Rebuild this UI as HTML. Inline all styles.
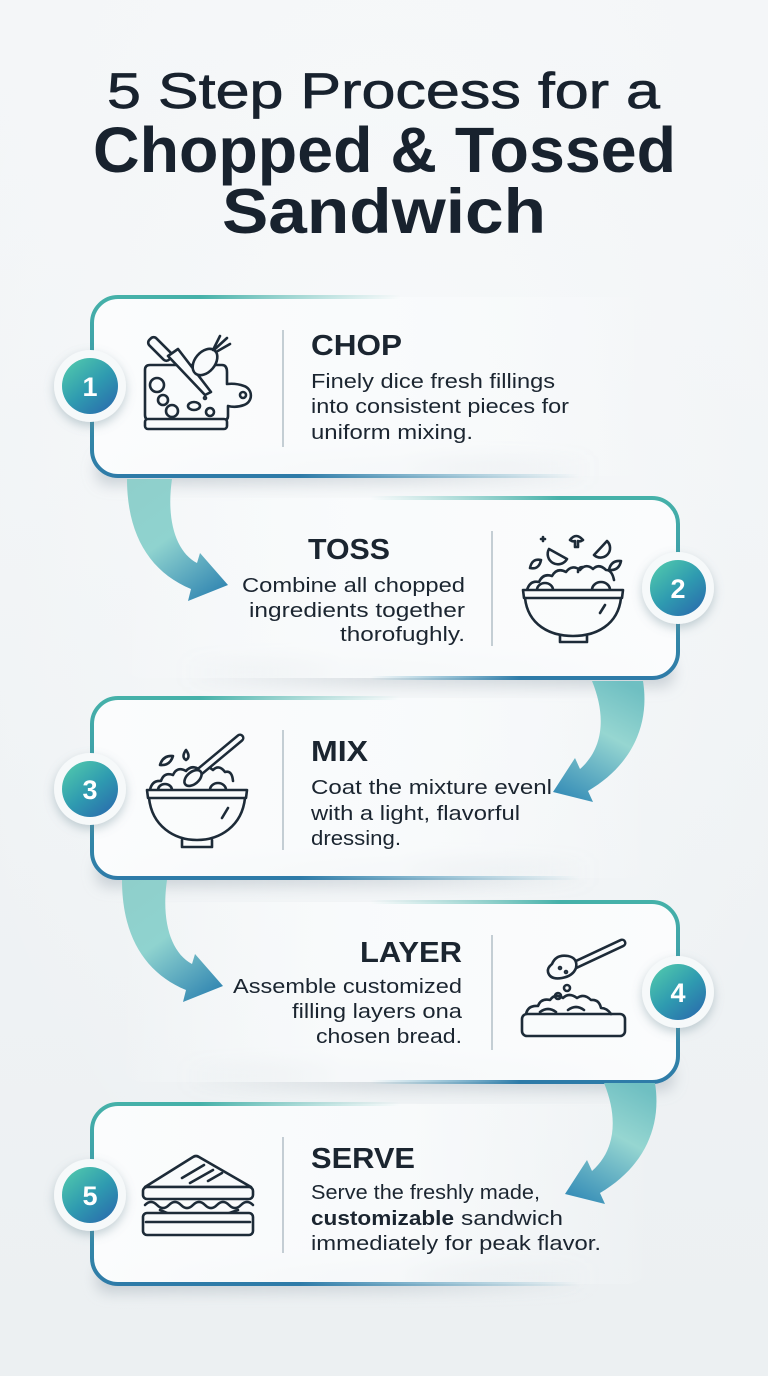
<!DOCTYPE html>
<html><head><meta charset="utf-8">
<style>
html,body{margin:0;padding:0;background:#eff2f4;}
svg{display:block;}
text{font-family:"Liberation Sans",Arial,sans-serif;}
</style></head>
<body>
<svg width="768" height="1376" viewBox="0 0 768 1376" xmlns="http://www.w3.org/2000/svg">
<defs>
  <linearGradient id="bg" x1="0" y1="0" x2="0" y2="1">
    <stop offset="0" stop-color="#f4f6f8"/>
    <stop offset="1" stop-color="#ecf0f2"/>
  </linearGradient>
  <radialGradient id="bgglow" cx="0.5" cy="0.35" r="0.6">
    <stop offset="0" stop-color="#f8fafb" stop-opacity="0.8"/>
    <stop offset="1" stop-color="#f8fafb" stop-opacity="0"/>
  </radialGradient>
  <linearGradient id="cardL" x1="0" y1="0" x2="1" y2="0">
    <stop offset="0" stop-color="#fbfcfd" stop-opacity="1"/>
    <stop offset="0.55" stop-color="#f9fbfc" stop-opacity="0.9"/>
    <stop offset="1" stop-color="#f9fbfc" stop-opacity="0"/>
  </linearGradient>
  <linearGradient id="cardR" x1="0" y1="0" x2="1" y2="0">
    <stop offset="0" stop-color="#f9fbfc" stop-opacity="0"/>
    <stop offset="0.4" stop-color="#f9fbfc" stop-opacity="0.9"/>
    <stop offset="1" stop-color="#fbfcfd" stop-opacity="1"/>
  </linearGradient>
  <linearGradient id="shL" x1="0" y1="0" x2="1" y2="0">
    <stop offset="0" stop-color="#9aa6b0" stop-opacity="0.45"/>
    <stop offset="0.6" stop-color="#9aa6b0" stop-opacity="0.3"/>
    <stop offset="1" stop-color="#9aa6b0" stop-opacity="0"/>
  </linearGradient>
  <linearGradient id="shR" x1="0" y1="0" x2="1" y2="0">
    <stop offset="0" stop-color="#9aa6b0" stop-opacity="0"/>
    <stop offset="0.4" stop-color="#9aa6b0" stop-opacity="0.3"/>
    <stop offset="1" stop-color="#9aa6b0" stop-opacity="0.45"/>
  </linearGradient>
  <linearGradient id="sideV" x1="0" y1="0" x2="0" y2="1">
    <stop offset="0" stop-color="#45b1a9"/>
    <stop offset="1" stop-color="#2e7ba8"/>
  </linearGradient>
  <linearGradient id="topL" gradientUnits="userSpaceOnUse" x1="200" y1="0" x2="400" y2="0">
    <stop offset="0" stop-color="#45b1a9" stop-opacity="1"/>
    <stop offset="1" stop-color="#6cc3bb" stop-opacity="0"/>
  </linearGradient>
  <linearGradient id="botL" gradientUnits="userSpaceOnUse" x1="300" y1="0" x2="580" y2="0">
    <stop offset="0" stop-color="#2e7ba8" stop-opacity="1"/>
    <stop offset="1" stop-color="#4aa0bf" stop-opacity="0"/>
  </linearGradient>
  <linearGradient id="topR" gradientUnits="userSpaceOnUse" x1="560" y1="0" x2="370" y2="0">
    <stop offset="0" stop-color="#45b1a9" stop-opacity="1"/>
    <stop offset="1" stop-color="#6cc3bb" stop-opacity="0"/>
  </linearGradient>
  <linearGradient id="botR" gradientUnits="userSpaceOnUse" x1="520" y1="0" x2="370" y2="0">
    <stop offset="0" stop-color="#2e7ba8" stop-opacity="1"/>
    <stop offset="1" stop-color="#4aa0bf" stop-opacity="0"/>
  </linearGradient>
  <linearGradient id="badge" x1="0.15" y1="0.1" x2="0.85" y2="0.95">
    <stop offset="0" stop-color="#4cc2ad"/>
    <stop offset="0.5" stop-color="#2f9bb0"/>
    <stop offset="1" stop-color="#2a6fad"/>
  </linearGradient>
  <linearGradient id="arrA" gradientUnits="userSpaceOnUse" x1="140" y1="478" x2="225" y2="595">
    <stop offset="0" stop-color="#8fcfcb"/>
    <stop offset="0.45" stop-color="#8fd3cf"/>
    <stop offset="1" stop-color="#2d82b0"/>
  </linearGradient>
  <linearGradient id="arrB" gradientUnits="userSpaceOnUse" x1="620" y1="680" x2="555" y2="800">
    <stop offset="0" stop-color="#6fbfc2"/>
    <stop offset="0.4" stop-color="#96d6d1"/>
    <stop offset="1" stop-color="#2f88b5"/>
  </linearGradient>
  <filter id="blur" x="-20%" y="-50%" width="140%" height="200%">
    <feGaussianBlur stdDeviation="7"/>
  </filter>
  <filter id="bshadow" x="-50%" y="-50%" width="200%" height="200%">
    <feDropShadow dx="0" dy="4" stdDeviation="5" flood-color="#6f8c98" flood-opacity="0.4"/>
  </filter>
</defs>

<rect width="768" height="1376" fill="url(#bg)"/>
<rect width="768" height="1376" fill="url(#bgglow)"/>

<!-- Title -->
<text x="107" y="108" font-size="50" fill="#18222e" stroke="#18222e" stroke-width="0.7" textLength="553" lengthAdjust="spacingAndGlyphs">5 Step Process for a</text>
<text x="93" y="172" font-size="64" font-weight="700" fill="#18222e" textLength="583" lengthAdjust="spacingAndGlyphs">Chopped &amp; Tossed</text>
<text x="222" y="233" font-size="63" font-weight="700" fill="#18222e" textLength="324" lengthAdjust="spacingAndGlyphs">Sandwich</text>

<!-- CARD SHADOWS -->
<g filter="url(#blur)">
  <rect x="96" y="455" width="500" height="30" rx="12" fill="url(#shL)"/>
  <rect x="180" y="657" width="494" height="30" rx="12" fill="url(#shR)"/>
  <rect x="96" y="857" width="500" height="30" rx="12" fill="url(#shL)"/>
  <rect x="180" y="1061" width="494" height="30" rx="12" fill="url(#shR)"/>
  <rect x="96" y="1263" width="500" height="30" rx="12" fill="url(#shL)"/>
</g>

<!-- CARD FILLS -->
<g>
  <rect x="92" y="297" width="560" height="179" rx="26" fill="url(#cardL)"/>
  <rect x="118" y="498" width="560" height="180" rx="26" fill="url(#cardR)"/>
  <rect x="92" y="698" width="560" height="180" rx="26" fill="url(#cardL)"/>
  <rect x="118" y="902" width="560" height="180" rx="26" fill="url(#cardR)"/>
  <rect x="92" y="1104" width="560" height="180" rx="26" fill="url(#cardL)"/>
</g>

<!-- CARD BORDERS -->
<g fill="none" stroke-width="4" stroke-linecap="round">
  <path d="M150,297 H118 A26,26 0 0 0 92,323 V450 A26,26 0 0 0 118,476 H150" stroke="url(#sideV)"/>
  <path d="M148,297 H400" stroke="url(#topL)" stroke-linecap="butt"/>
  <path d="M148,476 H580" stroke="url(#botL)" stroke-linecap="butt"/>
  <path d="M150,698 H118 A26,26 0 0 0 92,724 V852 A26,26 0 0 0 118,878 H150" stroke="url(#sideV)"/>
  <path d="M148,698 H400" stroke="url(#topL)" stroke-linecap="butt"/>
  <path d="M148,878 H580" stroke="url(#botL)" stroke-linecap="butt"/>
  <path d="M150,1104 H118 A26,26 0 0 0 92,1130 V1258 A26,26 0 0 0 118,1284 H150" stroke="url(#sideV)"/>
  <path d="M148,1104 H400" stroke="url(#topL)" stroke-linecap="butt"/>
  <path d="M148,1284 H580" stroke="url(#botL)" stroke-linecap="butt"/>
  <path d="M620,498 H652 A26,26 0 0 1 678,524 V652 A26,26 0 0 1 652,678 H620" stroke="url(#sideV)"/>
  <path d="M622,498 H370" stroke="url(#topR)" stroke-linecap="butt"/>
  <path d="M622,678 H370" stroke="url(#botR)" stroke-linecap="butt"/>
  <path d="M620,902 H652 A26,26 0 0 1 678,928 V1056 A26,26 0 0 1 652,1082 H620" stroke="url(#sideV)"/>
  <path d="M622,902 H370" stroke="url(#topR)" stroke-linecap="butt"/>
  <path d="M622,1082 H370" stroke="url(#botR)" stroke-linecap="butt"/>
</g>

<!-- ARROWS -->
<path d="M127,479 C127,535 150,572 191,589 L188,601 L228,585 L200,553 L197,563 C176,552 166,520 172,479 Z" fill="url(#arrA)"/>
<g transform="translate(-5,401)">
  <path d="M127,479 C127,535 150,572 191,589 L188,601 L228,585 L200,553 L197,563 C176,552 166,520 172,479 Z" fill="url(#arrA)"/>
</g>
<path d="M592,681 C606,715 604,748 580,769 L575,758 L553,792 L593,802 L588,791 C632,765 650,725 643,681 Z" fill="url(#arrB)"/>
<g transform="translate(12,402)">
  <path d="M592,681 C606,715 604,748 580,769 L575,758 L553,792 L593,802 L588,791 C632,765 650,725 643,681 Z" fill="url(#arrB)"/>
</g>

<!-- DIVIDERS -->
<g stroke="#b3bec6" stroke-width="1.5">
  <line x1="283" y1="330" x2="283" y2="447"/>
  <line x1="492" y1="531" x2="492" y2="646"/>
  <line x1="283" y1="730" x2="283" y2="850"/>
  <line x1="492" y1="935" x2="492" y2="1050"/>
  <line x1="283" y1="1137" x2="283" y2="1253"/>
</g>

<!-- TEXTS -->
<g fill="#1b2530">
  <text x="311" y="355" font-size="29" font-weight="700" textLength="91" lengthAdjust="spacingAndGlyphs">CHOP</text>
  <text x="311" y="388" font-size="20" textLength="244" lengthAdjust="spacingAndGlyphs">Finely dice fresh fillings</text>
  <text x="311" y="413" font-size="20" textLength="258" lengthAdjust="spacingAndGlyphs">into consistent pieces for</text>
  <text x="311" y="439" font-size="20" textLength="162" lengthAdjust="spacingAndGlyphs">uniform mixing.</text>

  <text x="308" y="559" font-size="29" font-weight="700" textLength="82" lengthAdjust="spacingAndGlyphs">TOSS</text>
  <text x="242" y="592" font-size="20" textLength="223" lengthAdjust="spacingAndGlyphs">Combine all chopped</text>
  <text x="249" y="617" font-size="20" textLength="216" lengthAdjust="spacingAndGlyphs">ingredients together</text>
  <text x="340" y="641" font-size="20" textLength="125" lengthAdjust="spacingAndGlyphs">thorofughly.</text>

  <text x="311" y="761" font-size="29" font-weight="700" textLength="57" lengthAdjust="spacingAndGlyphs">MIX</text>
  <text x="311" y="794" font-size="20" textLength="241" lengthAdjust="spacingAndGlyphs">Coat the mixture evenl</text>
  <text x="311" y="820" font-size="20" textLength="209" lengthAdjust="spacingAndGlyphs">with a light, flavorful</text>
  <text x="311" y="845" font-size="20" textLength="90" lengthAdjust="spacingAndGlyphs">dressing.</text>

  <text x="360" y="962" font-size="29" font-weight="700" textLength="102" lengthAdjust="spacingAndGlyphs">LAYER</text>
  <text x="233" y="993" font-size="20" textLength="229" lengthAdjust="spacingAndGlyphs">Assemble customized</text>
  <text x="292" y="1018" font-size="20" textLength="170" lengthAdjust="spacingAndGlyphs">filling layers ona</text>
  <text x="316" y="1043" font-size="20" textLength="146" lengthAdjust="spacingAndGlyphs">chosen bread.</text>

  <text x="311" y="1168" font-size="29" font-weight="700" textLength="104" lengthAdjust="spacingAndGlyphs">SERVE</text>
  <text x="311" y="1199" font-size="20" textLength="229" lengthAdjust="spacingAndGlyphs">Serve the freshly made,</text>
  <text x="311" y="1225" font-size="20" font-weight="700" textLength="143" lengthAdjust="spacingAndGlyphs">customizable</text>
  <text x="461" y="1225" font-size="20" textLength="102" lengthAdjust="spacingAndGlyphs">sandwich</text>
  <text x="311" y="1250" font-size="20" textLength="290" lengthAdjust="spacingAndGlyphs">immediately for peak flavor.</text>
</g>

<!-- BADGES -->
<g>
  <g filter="url(#bshadow)">
    <circle cx="90" cy="386" r="36" fill="#f6f9fa"/>
    <circle cx="678" cy="588" r="36" fill="#f6f9fa"/>
    <circle cx="90" cy="789" r="36" fill="#f6f9fa"/>
    <circle cx="678" cy="992" r="36" fill="#f6f9fa"/>
    <circle cx="90" cy="1195" r="36" fill="#f6f9fa"/>
  </g>
  <circle cx="90" cy="386" r="28" fill="url(#badge)"/>
  <circle cx="678" cy="588" r="28" fill="url(#badge)"/>
  <circle cx="90" cy="789" r="28" fill="url(#badge)"/>
  <circle cx="678" cy="992" r="28" fill="url(#badge)"/>
  <circle cx="90" cy="1195" r="28" fill="url(#badge)"/>
  <g fill="#ffffff" font-size="27" font-weight="700" text-anchor="middle">
    <text x="90" y="396">1</text>
    <text x="678" y="598">2</text>
    <text x="90" y="799">3</text>
    <text x="678" y="1002">4</text>
    <text x="90" y="1205">5</text>
  </g>
</g>

<!-- ICONS -->
<g fill="none" stroke="#1d2b38" stroke-width="2.6" stroke-linecap="round" stroke-linejoin="round">
  <!-- Icon 1: chop -->
  <path d="M150,365 H222 Q227,365 227,372 V384 Q236,383 244,386 A10,10 0 0 1 244,405 Q236,408 228,406 V416 Q228,420 224,420 H150 Q145,420 145,415 V370 Q145,365 150,365 Z" fill="#f9fbfc"/>
  <circle cx="243" cy="395" r="3"/>
  <rect x="145" y="419" width="82" height="10" rx="3" fill="#f9fbfc"/>
  <g transform="rotate(45 160 349)">
    <rect x="146" y="344" width="28" height="10" rx="4" fill="#f9fbfc"/>
  </g>
  <path d="M168,356 L178,349 L211,392 L205,395 Z" fill="#f9fbfc"/>
  <ellipse cx="205" cy="362" rx="15" ry="10" transform="rotate(-50 205 362)" fill="#f9fbfc"/>
  <path d="M213,350 L220,336 M216,352 L230,344 M215,349 L227,338"/>
  <circle cx="157" cy="385" r="7"/>
  <circle cx="163" cy="400" r="5"/>
  <circle cx="172" cy="411" r="6"/>
  <ellipse cx="194" cy="406" rx="6" ry="4"/>
  <circle cx="210" cy="412" r="4"/>
  <circle cx="205" cy="398" r="1"/>

  <!-- Icon 2: toss salad bowl -->
  <path d="M527,590 q3,-10 12,-8 q4,-9 13,-6 q5,-9 14,-4 q6,-8 14,-2 q6,-7 13,-1 q6,-6 13,1 q6,0 8,10"/>
  <path d="M537,590 a8,7 0 0 1 16,0 M592,590 a9,8 0 0 1 18,0"/>
  <path d="M523,590 H623 L622,598 H524 Z" fill="#f9fbfc"/>
  <path d="M525,598 C528,625 550,636 573,636 C596,636 618,625 621,598"/>
  <path d="M560,636 V642 H587 V636"/>
  <path d="M605,605 L600,613"/>
  <path d="M549,549 a10,10 0 0 0 18,10 Z"/>
  <path d="M570,540 q6,-8 13,0 q-3,2 -5,1 v6 h-3 v-6 q-2,1 -5,-1 Z"/>
  <path d="M594,555 a9,9 0 0 0 13,-14 Z"/>
  <path d="M530,568 q2,-10 11,-8 q-2,10 -11,8 Z"/>
  <path d="M609,570 q2,-10 12,-9 q-2,10 -12,9 Z"/>
  <path d="M578,572 q0,-5 5,-5"/>
  <path d="M543,537 v4 M541,539 h4"/>

  <!-- Icon 3: mix bowl -->
  <path d="M150,790 q2,-10 11,-9 q3,-9 12,-6 q4,-9 13,-4 q6,-7 14,-1 q6,-6 13,0 q6,-6 12,2 q7,-2 8,9"/>
  <path d="M158,790 a7,6 0 0 1 14,0 M210,790 a8,7 0 0 1 16,0"/>
  <path d="M192,778 L240,738" stroke-width="9"/>
  <path d="M192,778 L240,738" stroke="#f9fbfc" stroke-width="4"/>
  <ellipse cx="193" cy="778" rx="10" ry="6" transform="rotate(-40 193 778)" fill="#f9fbfc"/>
  <path d="M147,790 H247 L246,798 H148 Z" fill="#f9fbfc"/>
  <path d="M149,798 C152,826 174,840 197,840 C220,840 242,826 245,798"/>
  <path d="M182,840 V847 H212 V840"/>
  <path d="M228,808 L222,818"/>
  <path d="M160,765 q3,-10 13,-9 q-3,10 -13,9 Z"/>
  <path d="M186,750 q-5,7 0,10 q5,-3 0,-10 Z"/>

  <!-- Icon 4: layer -->
  <rect x="522" y="1014" width="103" height="22" rx="5" fill="#f9fbfc"/>
  <path d="M526,1014 q2,-9 12,-8 q3,-8 12,-6 q5,-7 13,-2 q6,-6 14,0 q7,-5 14,2 q8,-1 10,8 q6,0 10,6"/>
  <path d="M540,1012 q8,-6 16,0 M568,1010 q8,-6 16,0"/>
  <circle cx="558" cy="996" r="3"/>
  <circle cx="567" cy="988" r="3"/>
  <path d="M575,965 L622,943" stroke-width="9"/>
  <path d="M575,965 L622,943" stroke="#f9fbfc" stroke-width="4"/>
  <path d="M552,964 q4,-10 16,-8 q10,2 8,12 q-3,8 -14,10 q-12,2 -14,-6 q-1,-4 4,-8 Z" fill="#f9fbfc"/>
  <circle cx="560" cy="968" r="1"/>
  <circle cx="566" cy="972" r="1"/>

  <!-- Icon 5: sandwich -->
  <path d="M145,1187 L193,1157 Q196,1155 199,1157 L251,1187 Z" fill="#f9fbfc"/>
  <path d="M182,1178 L204,1165 M190,1183 L213,1170 M208,1181 L222,1173"/>
  <rect x="143" y="1187" width="110" height="12" rx="4" fill="#f9fbfc"/>
  <path d="M145,1205 q6,-6 12,0 q6,6 12,0 q6,-6 12,0 q6,6 12,0 q6,-6 12,0 q6,6 12,0 q6,-6 12,0 q6,6 12,0 q6,-6 12,0"/>
  <path d="M160,1210 L195,1225 L238,1210"/>
  <rect x="143" y="1213" width="110" height="22" rx="4" fill="#f9fbfc"/>
  <path d="M146,1222 H250"/>
</g>
</svg>
</body></html>
